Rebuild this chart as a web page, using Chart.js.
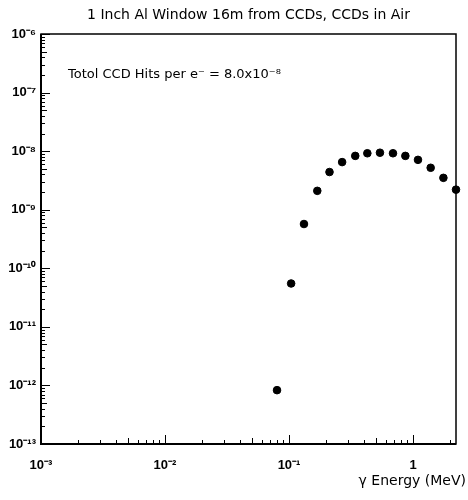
<!DOCTYPE html>
<html>
<head>
<meta charset="utf-8">
<script src="https://cdn.jsdelivr.net/npm/chart.js@4"></script>
<style>
html,body{margin:0;padding:0;background:#fff;}
canvas{display:block;}
</style>
</head>
<body>
<canvas id="c" width="468" height="500"></canvas>
<script>
// gamma energy (MeV) of each point
const energies = [0.080, 0.104, 0.132, 0.169, 0.212, 0.268, 0.342, 0.428, 0.541, 0.689, 0.867, 1.096, 1.387, 1.757, 2.22];
// CCD hits per electron
const hits = [8.3e-13, 5.5e-11, 5.7e-10, 2.1e-9, 4.4e-9, 6.5e-9, 8.3e-9, 9.2e-9, 9.4e-9, 9.2e-9, 8.3e-9, 7.1e-9, 5.2e-9, 3.5e-9, 2.2e-9];
const xTickValues = [1e-3, 1e-2, 1e-1, 1];
const xTickLabels = ['10\u207B\u00B3', '10\u207B\u00B2', '10\u207B\u00B9', '1'];
const yTickValues = [1e-13, 1e-12, 1e-11, 1e-10, 1e-9, 1e-8, 1e-7, 1e-6];
const yTickLabels = ['10\u207B\u00B9\u00B3', '10\u207B\u00B9\u00B2', '10\u207B\u00B9\u00B9', '10\u207B\u00B9\u2070', '10\u207B\u2079', '10\u207B\u2078', '10\u207B\u2077', '10\u207B\u2076'];
const titleText = '1 Inch Al Window 16m from CCDs, CCDs in Air';
const noteText = 'Totol CCD Hits per e\u207B = 8.0x10\u207B\u2078';
const xTitle = '\u03B3 Energy (MeV)';

const FONT = "'Liberation Sans', Arial, sans-serif";
const WIDE = "'DejaVu Sans', Verdana, sans-serif";

const framePlugin = {
  id: 'frame',
  afterDraw(chart) {
    const ctx = chart.ctx, a = chart.chartArea;
    const xs = chart.scales.x, ys = chart.scales.y;
    ctx.save();
    ctx.strokeStyle = '#000';
    ctx.lineWidth = 1.5;
    ctx.strokeRect(a.left, a.top, a.right - a.left, a.bottom - a.top);
    ctx.lineWidth = 2;
    ctx.beginPath(); ctx.moveTo(a.left, a.top); ctx.lineTo(a.left, a.bottom); ctx.lineTo(a.right, a.bottom); ctx.stroke();
    ctx.lineWidth = 1;
    // y ticks (inward from left)
    for (let e = -13; e <= -6; e++) {
      for (let m = 1; m <= 9; m++) {
        const v = m * Math.pow(10, e);
        if (v > ys.max * 1.0001) continue;
        const p = Math.round(ys.getPixelForValue(v)) + 0.5;
        const len = m === 1 ? 9 : (m === 5 ? 6 : 4);
        ctx.beginPath(); ctx.moveTo(a.left, p); ctx.lineTo(a.left + len, p); ctx.stroke();
      }
    }
    // x ticks (inward from bottom)
    for (let e = -3; e <= 0; e++) {
      for (let m = 1; m <= 9; m++) {
        const v = m * Math.pow(10, e);
        if (v > xs.max) continue;
        const p = Math.round(xs.getPixelForValue(v)) + 0.5;
        const len = m === 1 ? 9 : (m === 5 ? 6 : 4);
        ctx.beginPath(); ctx.moveTo(p, a.bottom); ctx.lineTo(p, a.bottom - len); ctx.stroke();
      }
    }
    ctx.fillStyle = '#000';
    // annotation
    ctx.font = '13px ' + WIDE;
    ctx.textAlign = 'left';
    ctx.textBaseline = 'middle';
    ctx.fillText(noteText, 68, 75);
    // x axis title
    ctx.font = '14px ' + WIDE;
    ctx.textAlign = 'right';
    ctx.fillText(xTitle, 466, 481);
    ctx.restore();
  }
};

new Chart(document.getElementById('c'), {
  type: 'scatter',
  data: {
    datasets: [{
      data: energies.map((e, i) => ({x: e, y: hits[i]})),
      backgroundColor: '#000',
      borderColor: '#000',
      pointRadius: 3.8,
      pointHoverRadius: 3.8,
      showLine: false,
      clip: false
    }]
  },
  options: {
    responsive: false,
    animation: false,
    devicePixelRatio: 1,
    layout: {padding: {left: 0, right: 12, top: 0, bottom: 0}},
    plugins: {
      legend: {display: false},
      tooltip: {enabled: false},
      title: {
        display: true,
        fullSize: false,
        text: titleText,
        color: '#000',
        font: {family: WIDE, size: 14, weight: 'normal'},
        padding: {top: 7, bottom: 10.2}
      }
    },
    scales: {
      x: {
        type: 'logarithmic',
        min: 1e-3,
        max: 2.22,
        grid: {display: false, drawTicks: false},
        border: {display: false},
        afterBuildTicks(s) { s.ticks = xTickValues.map(v => ({value: v})); },
        afterFit(s) { s.height = 56; },
        ticks: {
          autoSkip: false,
          maxRotation: 0,
          padding: 14,
          color: '#000',
          font: {family: FONT, size: 13, weight: 'bold'},
          callback(v) { const i = xTickValues.findIndex(t => Math.abs(Math.log10(t) - Math.log10(v)) < 1e-6); return i >= 0 ? xTickLabels[i] : ''; }
        }
      },
      y: {
        type: 'logarithmic',
        min: 1e-13,
        max: 1e-6,
        grid: {display: false, drawTicks: false},
        border: {display: false},
        afterBuildTicks(s) { s.ticks = yTickValues.map(v => ({value: v})); },
        afterFit(s) { s.width = 41; },
        ticks: {
          autoSkip: false,
          padding: 5,
          color: '#000',
          font: {family: FONT, size: 13, weight: 'bold'},
          callback(v) { const i = yTickValues.findIndex(t => Math.abs(Math.log10(t) - Math.log10(v)) < 1e-6); return i >= 0 ? yTickLabels[i] : ''; }
        }
      }
    }
  },
  plugins: [framePlugin]
});
</script>
</body>
</html>
